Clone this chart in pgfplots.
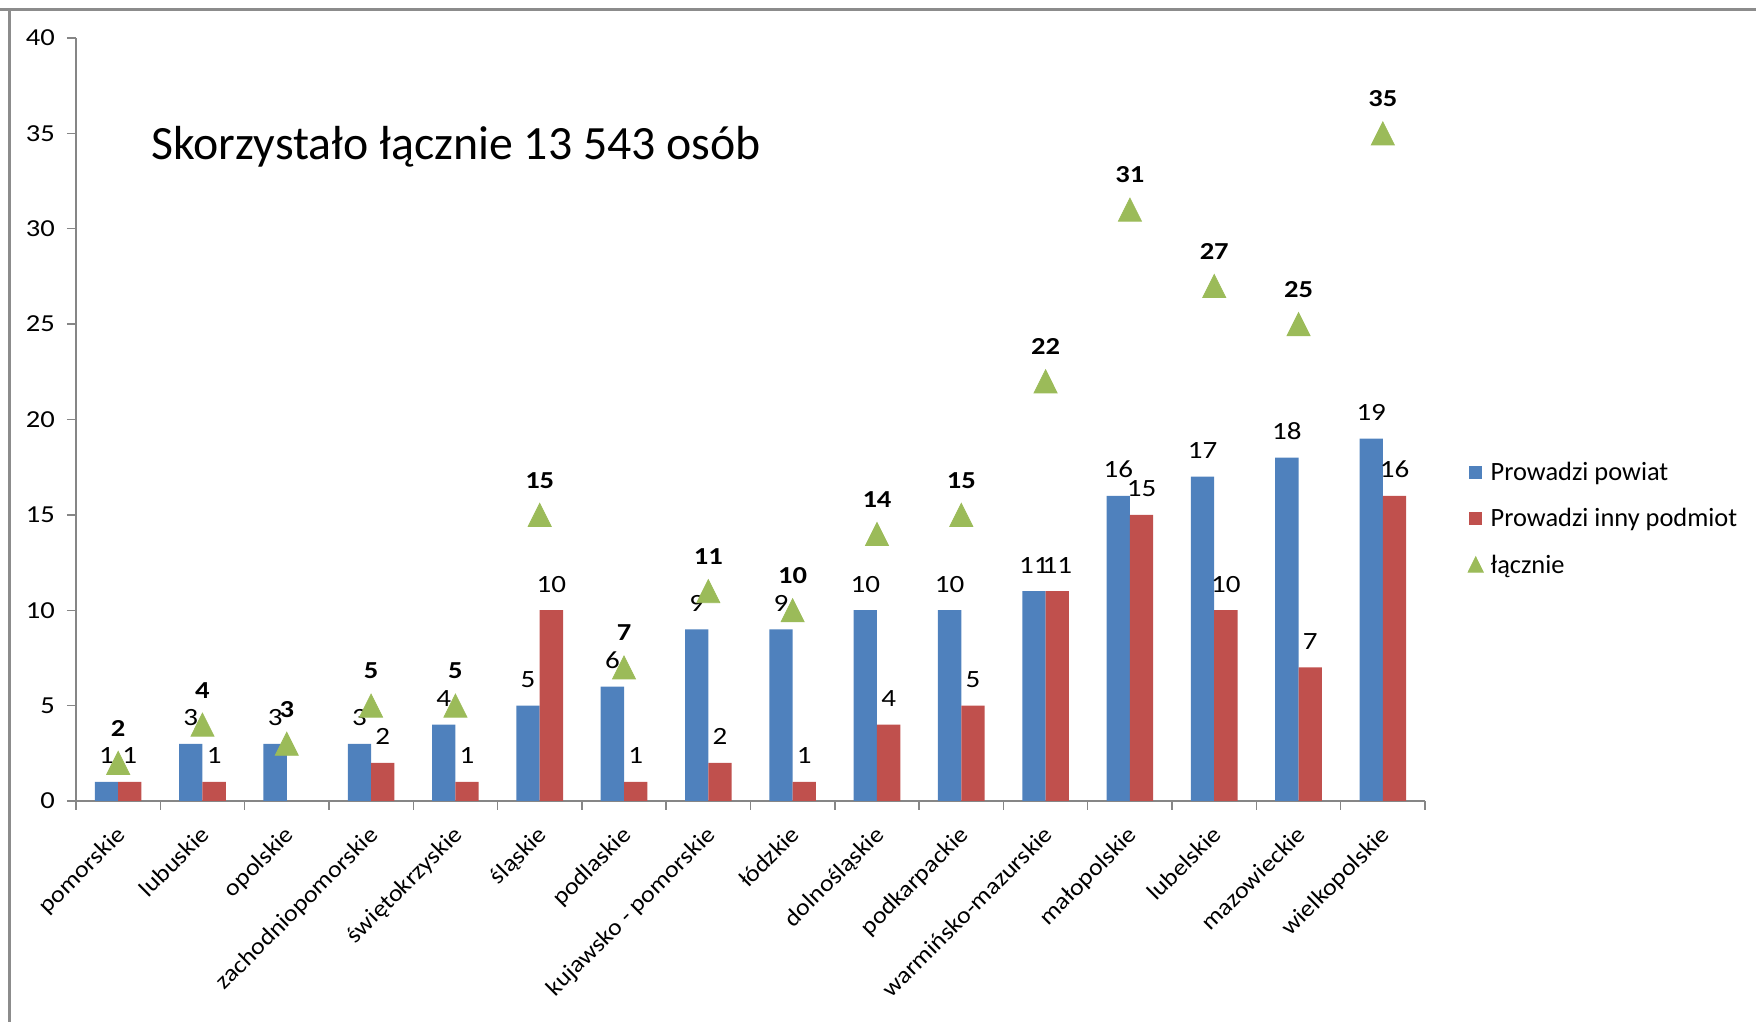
\documentclass[border=0pt]{standalone}
\usepackage{pgfplots}
\pgfplotsset{compat=1.18}
\usepackage{fontspec}
\setmainfont{Carlito}
\newfontfamily\chartfont{Carlito}[FakeStretch=1.17]
\newfontfamily\labfont{Carlito}[FakeStretch=1.1]
\definecolor{cblue}{HTML}{4F81BD}
\definecolor{cred}{HTML}{C0504D}
\definecolor{cgreen}{HTML}{9BBB59}
\definecolor{axgray}{RGB}{134,134,134}
\definecolor{frgray}{RGB}{140,140,140}
\begin{document}
\begin{tikzpicture}[x=1pt,y=1pt]
\useasboundingbox (0,0) rectangle (878,511);
\node[anchor=base west, inner sep=0pt, font=\fontsize{54}{60}\selectfont\bfseries] at (339,517) {g};
\node[anchor=base west, inner sep=0pt, font=\fontsize{54}{60}\selectfont\bfseries] at (448,517) {y};
\fill[white] (0,506) rectangle (878,511.5);
\draw[frgray, line width=1.3pt] (0,506.3) -- (878,506.3);
\draw[frgray, line width=1.3pt] (4.7,0) -- (4.7,506.3);
\begin{axis}[
  at={(38pt,110.5pt)}, anchor=south west,
  scale only axis, width=674.5pt, height=381.5pt,
  xmin=-0.5, xmax=15.5, ymin=0, ymax=40,
  axis x line*=bottom, axis y line*=left,
  axis line style={axgray, line width=0.7pt},
  /pgf/number format/assume math mode=true,
  ytick={0,5,...,40},
  xtick={-0.5,0.5,...,15.5},
  xticklabels={pomorskie,lubuskie,opolskie,zachodniopomorskie,świętokrzyskie,śląskie,podlaskie,kujawsko - pomorskie,łódzkie,dolnośląskie,podkarpackie,warmińsko-mazurskie,małopolskie,lubelskie,mazowieckie,wielkopolskie,{}},
  xtick align=outside, ytick align=outside,
  major tick length=4.5pt,
  tick style={axgray, line width=0.7pt},
  tick label style={font=\chartfont\fontsize{12.2}{14}\selectfont, text=black},
  xticklabel style={font=\labfont\fontsize{11.8}{14}\selectfont, inner sep=0pt, xshift=19.4pt, yshift=-7pt, rotate=45, anchor=north east},
  yticklabel style={inner sep=0pt, xshift=-5.9pt},
  clip=false,
  legend style={draw=none, fill=none, at={(1.0269,0.4506)}, anchor=north west,
    font=\fontsize{13.2}{15}\selectfont, row sep=11.2pt,
    nodes={inner sep=0pt, text height=9.5pt, text depth=2.5pt, anchor=base west},
    /tikz/every odd column/.append style={column sep=3.5pt}},
  legend cell align=left,
  nodes near coords style={font=\chartfont\fontsize{12.4}{14}\selectfont, text=black, anchor=south, inner sep=0pt},
]
\addplot[ybar, bar width=11.65pt, bar shift=-5.825pt, fill=cblue, draw=none,
  nodes near coords, nodes near coords style={yshift=8.8pt, xshift=-5.825pt},
  legend image code/.code={\fill[cblue] (0pt,1pt) rectangle (6.5pt,7.5pt);}]
  coordinates {(0,1) (1,3) (2,3) (3,3) (4,4) (5,5) (6,6) (7,9) (8,9) (9,10) (10,10) (11,11) (12,16) (13,17) (14,18) (15,19)};
\addlegendentry{Prowadzi powiat}
\addplot[ybar, bar width=11.65pt, bar shift=5.825pt, fill=cred, draw=none,
  nodes near coords, nodes near coords style={yshift=8.8pt, xshift=5.825pt},
  legend image code/.code={\fill[cred] (0pt,1pt) rectangle (6.5pt,7.5pt);}]
  coordinates {(0,1) (1,1) (3,2) (4,1) (5,10) (6,1) (7,2) (8,1) (9,4) (10,5) (11,11) (12,15) (13,10) (14,7) (15,16)};
\addlegendentry{Prowadzi inny podmiot}
\addplot[only marks, mark=triangle*, mark size=6.64pt, color=cgreen,
  mark options={yshift=-1.92pt, yscale=1.155, fill=cgreen, draw=none},
  nodes near coords, nodes near coords style={yshift=15pt, font=\chartfont\fontsize{12.2}{14}\selectfont\bfseries},
  legend image code/.code={\fill[cgreen] (-0.3pt,0.6pt) -- (7.3pt,0.6pt) -- (3.5pt,8.3pt) -- cycle;}]
  coordinates {(0,2) (1,4) (2,3) (3,5) (4,5) (5,15) (6,7) (7,11) (8,10) (9,14) (10,15) (11,22) (12,31) (13,27) (14,25) (15,35)};
\addlegendentry{łącznie}
\end{axis}
\node[anchor=base west, inner sep=0pt, font=\fontsize{23.9}{28}\selectfont] at (75.5,431) {Skorzystało łącznie 13 543 osób};
\end{tikzpicture}
\end{document}
